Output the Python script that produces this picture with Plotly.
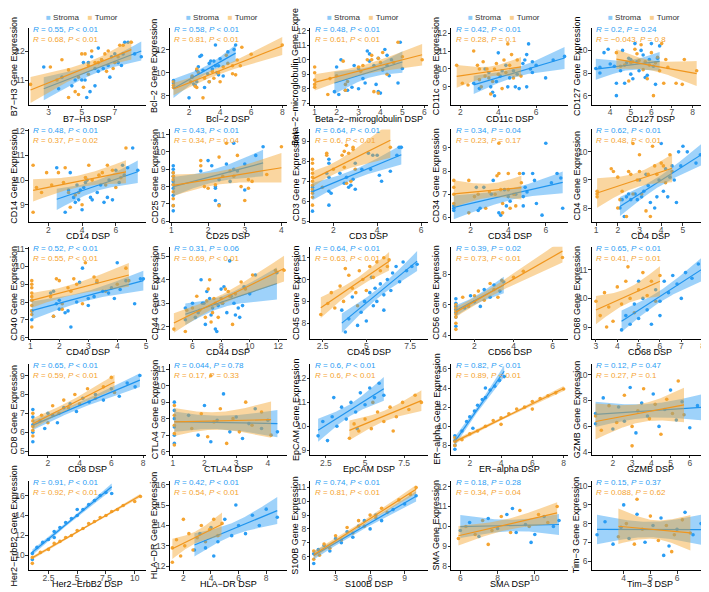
import numpy as np
import plotly.graph_objects as go

# ---------------- data ----------------
markers = ["B7−H3", "Bcl−2", "Beta−2−microglobulin", "CD11c", "CD127",
           "CD14", "CD25", "CD3", "CD34", "CD4",
           "CD40", "CD44", "CD45", "CD56", "CD68",
           "CD8", "CTLA4", "EpCAM", "ER−alpha", "GZMB",
           "Her2−ErbB2", "HLA−DR", "S100B", "SMA", "Tim−3"]

r_stroma = ["0.55", "0.58", "0.48", "0.42", "0.2",
            "0.48", "0.43", "0.64", "0.34", "0.62",
            "0.52", "0.31", "0.64", "0.39", "0.65",
            "0.65", "0.044", "0.6", "0.82", "0.12",
            "0.91", "0.42", "0.74", "0.18", "0.15"]
p_stroma = ["< 0.01", "< 0.01", "< 0.01", "< 0.01", "= 0.24",
            "< 0.01", "< 0.01", "< 0.01", "= 0.04", "< 0.01",
            "< 0.01", "= 0.06", "< 0.01", "= 0.02", "< 0.01",
            "< 0.01", "= 0.78", "< 0.01", "< 0.01", "= 0.47",
            "< 0.01", "< 0.01", "< 0.01", "= 0.28", "= 0.37"]
r_tumor = ["0.68", "0.81", "0.61", "0.28", "−0.043",
           "0.37", "0.34", "0.6", "0.23", "0.48",
           "0.55", "0.69", "0.63", "0.73", "0.41",
           "0.59", "0.17", "0.6", "0.89", "0.27",
           "0.92", "0.54", "0.81", "0.34", "0.088"]
p_tumor = ["< 0.01", "< 0.01", "< 0.01", "= 0.1", "= 0.8",
           "= 0.02", "= 0.04", "< 0.01", "= 0.17", "< 0.01",
           "< 0.01", "< 0.01", "< 0.01", "< 0.01", "= 0.01",
           "< 0.01", "= 0.33", "< 0.01", "< 0.01", "= 0.1",
           "< 0.01", "< 0.01", "< 0.01", "= 0.04", "= 0.62"]

x_ranges = [[1.8, 8.9], [0.75, 8.3], [0.8, 6.15], [1.5, 7.7], [3.1, 8.8],
            [0.85, 7.8], [0.95, 4.15], [0.95, 6.3], [0.95, 7.2], [0.8, 6.2],
            [0.95, 5.0], [4.4, 12.6], [1.8, 8.5], [0.8, 6.8], [2.8, 8.3],
            [0.8, 8.2], [0.9, 4.6], [1.5, 9.0], [0.8, 8.3], [0.9, 7.0],
            [0.8, 11.0], [1.0, 9.5], [0.8, 11.0], [5.5, 11.8], [2.8, 7.2]]
y_ranges = [[10.15, 12.8], [7.2, 13.9], [6.9, 12.2], [8.0, 12.3], [5.2, 12.0],
            [8.3, 12.05], [5.95, 11.3], [4.95, 9.6], [5.8, 9.8], [7.5, 10.8],
            [5.95, 11.1], [11.5, 15.4], [7.3, 11.5], [3.8, 9.8], [8.6, 11.8],
            [4.8, 9.6], [5.8, 11.3], [8.8, 12.6], [7.0, 16.5], [3.8, 10.8],
            [8.5, 17.5], [11.8, 16.2], [5.0, 11.5], [7.8, 12.3], [5.5, 10.3]]
x_ticks = [[3, 5, 7], [2, 4, 6, 8], [1, 2, 3, 4, 5, 6], [2, 4, 6], [4, 5, 6, 7, 8],
           [2, 4, 6], [1, 2, 3, 4], [2, 4, 6], [2, 4, 6], [1, 2, 3, 4, 5, 6],
           [1, 2, 3, 4, 5], [6, 8, 10, 12], [2.5, 5.0, 7.5], [2, 4, 6], [3, 4, 5, 6, 7, 8],
           [2, 4, 6, 8], [1, 2, 3, 4], [2.5, 5.0, 7.5], [2, 4, 6, 8], [2, 3, 4, 5, 6],
           [2.5, 5.0, 7.5, 10.0], [2, 4, 6, 8], [3, 6, 9], [6, 8, 10], [4, 5, 6]]
y_ticks = [[11, 12], [8, 10, 12], [7, 8, 9, 10, 11, 12], [9, 10, 11, 12], [6, 8, 10],
           [9, 10, 11, 12], [6, 7, 8, 9, 10, 11], [5, 6, 7, 8, 9], [6, 7, 8, 9], [8, 9, 10],
           [6, 7, 8, 9, 10, 11], [12, 13, 14, 15], [8, 9, 10, 11], [4, 6, 8], [9, 10, 11],
           [5, 6, 7, 8, 9], [6, 7, 8, 9, 10, 11], [9, 10, 11, 12], [8, 10, 12, 14, 16], [4, 6, 8, 10],
           [10, 12, 14, 16], [12, 13, 14, 15, 16], [6, 7, 8, 9, 10, 11], [8, 9, 10, 11, 12], [6, 7, 8, 9, 10]]

# (DSP, gene expression) pairs per marker
b7h3_s = [(2.7, 11.45), (3.6, 10.7), (3.8, 11.1), (4.4, 10.8), (4.6, 11.0), (5.0, 11.0), (5.3, 10.4), (5.5, 10.6),
          (5.2, 11.0), (5.4, 11.6), (5.6, 11.8), (5.1, 11.6), (5.8, 11.4), (6.0, 11.3), (6.2, 11.7), (6.0, 12.1),
          (6.3, 11.4), (6.6, 11.5), (6.8, 11.8), (7.0, 11.9), (7.2, 11.6), (7.4, 11.5), (7.5, 11.9), (7.6, 12.3),
          (7.8, 12.3), (8.2, 11.9), (8.6, 11.8), (6.7, 11.1), (5.8, 10.8)]
b7h3_t = [(1.9, 10.85), (3.1, 11.45), (3.5, 11.0), (3.8, 11.7), (4.2, 11.35), (4.2, 10.4), (4.6, 10.6), (4.8, 10.5),
          (4.8, 11.1), (5.1, 10.75), (5.4, 11.2), (5.4, 11.5), (5.2, 11.9), (5.6, 12.0), (5.0, 11.9), (5.8, 11.6),
          (6.0, 11.6), (6.2, 11.7), (6.4, 11.9), (6.5, 11.3), (6.6, 12.0), (7.0, 11.6), (7.3, 12.2), (7.5, 12.2),
          (7.2, 11.8), (6.9, 11.4), (8.0, 12.3)]
bcl2_s = [(1.0, 9.3), (1.0, 9.1), (2.0, 7.8), (2.2, 9.6), (2.3, 9.0), (2.4, 8.9), (2.5, 9.2), (2.5, 10.2),
          (2.6, 10.5), (2.7, 11.4), (2.8, 11.5), (2.9, 10.2), (3.0, 8.7), (3.2, 9.9), (3.3, 10.8), (3.4, 11.0),
          (3.5, 10.3), (3.6, 11.0), (3.7, 12.4), (3.7, 10.6), (3.8, 10.0), (3.9, 10.6), (4.0, 11.2), (4.2, 9.7),
          (4.5, 11.8), (4.9, 12.0), (5.0, 12.4), (3.3, 9.2), (3.9, 9.8)]
bcl2_t = [(1.0, 9.2), (1.0, 8.9), (1.0, 8.7), (2.1, 9.2), (2.2, 9.7), (2.4, 8.8), (2.5, 8.7), (2.5, 10.3),
          (2.6, 10.0), (2.9, 7.8), (3.0, 9.5), (3.3, 9.2), (3.6, 9.5), (3.9, 10.0), (4.0, 9.2), (4.2, 10.5),
          (4.5, 10.8), (4.8, 10.6), (4.8, 9.9), (5.0, 9.8), (5.1, 11.1), (5.3, 10.6), (5.4, 12.2), (6.0, 11.6),
          (8.0, 12.4), (3.5, 10.1), (4.4, 11.5)]
b2m_s = [(1.9, 7.8), (2.0, 9.5), (2.1, 7.6), (2.2, 10.0), (2.4, 7.9), (2.5, 7.9), (2.7, 8.1), (2.8, 9.6),
         (3.0, 8.0), (3.0, 9.4), (3.2, 8.7), (3.3, 8.4), (3.4, 10.6), (3.5, 10.4), (3.5, 9.9), (3.7, 9.6),
         (3.8, 8.3), (3.9, 7.8), (3.9, 10.1), (4.0, 7.7), (4.1, 9.3), (4.2, 10.7), (4.3, 10.3), (4.4, 8.9),
         (4.5, 10.0), (4.8, 8.4), (4.9, 11.2), (5.0, 9.4), (4.3, 9.6)]
b2m_t = [(1.0, 9.5), (1.0, 9.1), (1.0, 8.6), (1.0, 8.3), (1.0, 8.1), (1.6, 7.6), (1.7, 8.7), (2.0, 8.9),
         (2.3, 9.9), (2.4, 8.3), (2.4, 7.9), (2.5, 8.5), (3.1, 9.2), (3.2, 9.6), (3.4, 10.0), (3.6, 10.3),
         (3.6, 10.0), (3.7, 7.8), (3.9, 10.1), (3.9, 7.7), (4.0, 9.8), (4.1, 10.5), (4.3, 9.0), (4.6, 9.8),
         (4.8, 11.2), (5.0, 10.2), (5.9, 10.0), (3.0, 9.5)]
cd11c_s = [(2.7, 9.2), (3.0, 8.9), (3.3, 10.0), (3.5, 9.8), (3.6, 9.0), (3.7, 8.7), (3.8, 8.5), (3.9, 9.3),
           (4.0, 10.9), (4.1, 9.6), (4.2, 9.9), (4.4, 10.2), (4.5, 9.0), (4.6, 9.5), (4.9, 9.0), (5.0, 9.7),
           (5.1, 8.9), (5.3, 10.3), (5.4, 10.5), (5.5, 10.8), (5.5, 9.0), (5.6, 11.4), (5.7, 10.0), (5.8, 10.4),
           (5.8, 9.8), (6.0, 10.2), (6.5, 9.5), (6.9, 10.5), (7.5, 10.7), (4.8, 9.9)]
cd11c_t = [(1.8, 10.2), (2.1, 9.2), (2.4, 9.1), (2.7, 11.0), (2.9, 10.2), (3.0, 10.0), (3.0, 9.4), (3.1, 9.0),
           (3.2, 10.4), (3.3, 9.6), (3.4, 10.0), (3.5, 9.5), (3.6, 8.6), (3.7, 9.3), (3.9, 10.3), (4.0, 9.7),
           (4.2, 8.9), (4.3, 10.5), (4.4, 9.8), (4.5, 11.4), (4.6, 10.2), (4.7, 10.8), (4.8, 9.5), (5.0, 10.5),
           (5.2, 9.6), (3.8, 10.0)]
cd127_s = [(3.3, 8.4), (3.5, 8.0), (3.5, 8.5), (3.7, 9.8), (3.9, 10.1), (4.2, 8.6), (4.3, 7.1), (4.3, 6.0),
           (4.6, 10.0), (4.7, 7.1), (4.8, 8.9), (4.9, 9.3), (5.0, 7.9), (5.1, 7.5), (5.2, 10.6), (5.3, 9.0),
           (5.4, 8.2), (5.5, 10.0), (5.6, 9.6), (5.7, 7.6), (5.8, 7.8), (5.9, 9.2), (6.0, 10.6), (6.1, 8.6),
           (6.2, 7.0), (6.3, 9.3), (6.4, 10.4), (4.5, 8.2), (5.0, 9.2), (4.0, 8.8)]
cd127_t = [(4.3, 9.8), (4.5, 8.6), (4.7, 8.7), (4.9, 7.3), (5.0, 8.9), (5.2, 10.1), (5.3, 9.7), (5.4, 9.1),
           (5.5, 10.5), (5.6, 8.3), (5.7, 9.0), (5.8, 7.5), (5.9, 8.7), (6.1, 6.0), (6.2, 8.9), (6.3, 9.4),
           (6.4, 8.2), (6.5, 10.6), (6.6, 7.1), (6.7, 9.2), (6.8, 8.5), (7.2, 7.1), (7.5, 7.0), (7.6, 9.2),
           (8.2, 8.2), (6.0, 9.8), (5.1, 9.0)]
cd14_s = [(2.5, 10.5), (3.0, 8.7), (3.2, 9.6), (3.3, 10.3), (3.5, 9.3), (3.6, 9.1), (3.7, 9.8), (3.8, 9.2),
          (3.9, 9.6), (4.0, 8.8), (4.1, 9.7), (4.2, 9.9), (4.3, 10.0), (4.5, 9.3), (4.6, 9.2), (4.9, 9.5),
          (5.1, 9.8), (5.3, 9.1), (5.5, 9.3), (5.6, 10.0), (5.8, 9.2), (6.0, 10.4), (6.2, 9.9), (6.4, 10.6),
          (6.5, 10.2), (6.7, 10.5), (7.0, 11.3), (7.3, 10.4)]
cd14_t = [(1.1, 10.6), (1.1, 8.7), (1.3, 9.7), (1.6, 9.5), (1.9, 10.3), (2.2, 9.8), (2.6, 10.3), (2.9, 9.9),
          (3.2, 9.5), (3.3, 8.9), (3.6, 9.4), (3.8, 9.5), (4.0, 9.0), (4.2, 10.1), (4.4, 10.6), (4.6, 10.0),
          (5.0, 10.2), (5.2, 10.3), (5.4, 9.8), (5.5, 10.6), (5.8, 10.4), (6.0, 9.7), (6.3, 10.1), (6.6, 11.3),
          (3.0, 10.5)]
cd25_s = [(1.05, 9.2), (1.05, 9.0), (1.05, 8.8), (1.05, 8.6), (1.05, 8.3), (1.05, 8.1), (1.05, 7.9), (1.05, 7.5),
          (1.05, 6.9), (1.05, 6.6), (1.8, 8.9), (2.0, 9.5), (2.1, 9.2), (2.2, 8.0), (2.2, 7.9), (2.2, 7.2),
          (2.3, 6.95), (2.3, 8.4), (2.5, 9.3), (2.6, 8.3), (2.7, 10.5), (2.7, 9.0), (2.8, 8.9), (3.0, 7.8),
          (3.0, 9.3), (3.3, 9.8), (3.5, 10.3)]
cd25_t = [(1.05, 8.8), (1.05, 8.6), (1.05, 8.4), (1.05, 8.1), (1.05, 7.7), (1.05, 7.3), (1.05, 6.9), (1.8, 9.2),
          (1.8, 9.5), (1.9, 8.0), (2.0, 7.9), (2.2, 8.1), (2.3, 6.9), (2.3, 9.7), (2.4, 8.6), (2.5, 10.5),
          (2.6, 8.9), (2.7, 8.6), (2.8, 9.8), (2.9, 8.0), (3.0, 7.2), (3.1, 7.9), (3.1, 8.4), (3.2, 8.3),
          (3.6, 8.7), (4.0, 10.3)]
cd3_s = [(1.05, 5.5), (1.05, 6.7), (1.05, 6.5), (1.7, 7.4), (1.8, 7.2), (1.8, 8.1), (1.8, 7.9), (1.8, 6.5),
         (1.8, 5.8), (1.9, 6.4), (2.3, 7.4), (2.5, 6.9), (2.6, 7.2), (2.7, 6.7), (2.8, 6.8), (2.9, 7.1),
         (3.0, 6.6), (3.0, 7.9), (3.3, 7.6), (3.6, 8.4), (3.7, 7.6), (3.8, 8.3), (4.0, 8.3), (4.1, 7.3),
         (4.2, 7.0), (4.6, 7.5), (4.9, 8.3), (5.0, 8.7), (5.1, 8.7)]
cd3_t = [(1.05, 8.1), (1.05, 7.9), (1.05, 7.6), (1.05, 7.4), (1.05, 7.2), (1.05, 7.0), (1.05, 6.8), (1.05, 6.6),
         (1.05, 6.4), (1.05, 6.2), (1.05, 5.8), (1.5, 6.7), (1.7, 8.4), (1.7, 8.3), (2.0, 7.6), (2.4, 8.3),
         (2.5, 8.5), (2.6, 8.8), (2.7, 8.4), (2.9, 8.6), (2.9, 8.7), (2.5, 7.7), (3.0, 7.6), (4.6, 8.7),
         (2.6, 6.9), (2.8, 7.0)]
cd34_s = [(1.1, 6.3), (1.1, 6.5), (1.1, 6.4), (2.3, 7.3), (2.4, 6.3), (2.5, 6.4), (2.7, 7.3), (3.1, 7.0),
          (3.2, 7.6), (3.5, 6.2), (3.6, 6.1), (3.8, 7.2), (3.9, 6.5), (4.0, 6.9), (4.1, 6.7), (4.4, 7.0),
          (4.8, 7.9), (4.8, 6.9), (4.8, 6.5), (5.0, 7.1), (5.3, 7.9), (5.4, 7.6), (5.5, 6.6), (5.8, 6.1),
          (6.0, 9.2), (6.3, 7.5), (6.6, 7.9), (6.8, 7.7), (6.9, 6.4), (4.9, 7.3)]
cd34_t = [(1.1, 7.6), (1.1, 7.3), (1.1, 7.0), (1.1, 6.6), (1.9, 7.6), (1.9, 6.2), (2.4, 7.0), (2.8, 6.4),
          (3.3, 7.0), (3.4, 7.8), (3.5, 9.2), (3.5, 7.9), (3.6, 7.2), (3.7, 6.6), (3.7, 6.2), (4.0, 7.9),
          (4.0, 7.2), (4.1, 6.4), (4.3, 7.0), (4.4, 6.5), (4.6, 7.9), (4.7, 7.5), (3.0, 7.1), (2.2, 6.9)]
cd4_s = [(2.1, 8.0), (2.2, 8.3), (2.3, 7.7), (2.4, 8.4), (2.5, 8.5), (2.6, 8.3), (2.8, 8.5), (2.9, 8.3),
         (3.0, 9.0), (3.1, 8.4), (3.2, 8.6), (3.3, 9.2), (3.4, 8.8), (3.5, 8.2), (3.7, 8.0), (3.8, 8.4),
         (3.9, 9.0), (4.0, 10.3), (4.1, 8.6), (4.2, 9.4), (4.3, 8.4), (4.4, 9.1), (4.5, 9.5), (4.6, 9.0),
         (4.7, 8.2), (4.8, 10.0), (4.9, 9.5), (5.0, 10.2), (5.2, 10.0), (5.6, 9.6), (5.8, 9.9), (6.0, 9.9)]
cd4_t = [(1.05, 8.6), (1.05, 8.4), (1.05, 8.5), (1.7, 9.4), (1.8, 9.3), (2.0, 9.1), (2.0, 8.0), (2.2, 8.6),
         (2.4, 7.7), (2.5, 9.3), (2.6, 9.2), (2.7, 10.3), (2.7, 8.5), (2.9, 9.0), (3.0, 9.9), (3.0, 9.3),
         (3.1, 8.5), (3.3, 7.9), (3.4, 9.2), (3.6, 10.2), (3.7, 9.5), (3.8, 9.2), (4.0, 9.6), (4.1, 9.5),
         (4.2, 8.9), (4.4, 9.9), (4.5, 9.3), (2.1, 8.3), (3.5, 7.7)]
cd40_s = [(1.05, 8.1), (1.05, 7.5), (1.05, 7.0), (1.7, 8.5), (1.8, 8.6), (1.8, 7.2), (1.9, 7.9), (2.0, 7.6),
          (2.0, 8.1), (2.2, 7.4), (2.3, 7.5), (2.4, 6.6), (2.6, 8.0), (2.7, 9.1), (2.8, 9.9), (3.0, 8.2),
          (3.0, 7.8), (3.2, 8.3), (3.3, 9.1), (3.5, 8.6), (3.7, 8.5), (3.8, 8.8), (3.9, 8.2), (4.0, 10.2),
          (4.1, 8.7), (4.3, 9.2), (4.6, 7.9), (4.8, 9.3), (4.9, 9.3)]
cd40_t = [(1.05, 9.2), (1.05, 9.0), (1.05, 8.8), (1.05, 8.5), (1.05, 8.3), (1.05, 8.1), (1.05, 7.8), (1.05, 7.5),
          (1.05, 7.3), (1.05, 6.6), (1.7, 8.3), (1.8, 7.2), (1.9, 9.3), (2.0, 9.2), (2.1, 7.6), (2.1, 7.9),
          (2.3, 8.8), (2.5, 9.3), (2.6, 9.0), (2.8, 7.9), (2.9, 10.2), (3.2, 9.4), (3.3, 9.2), (3.6, 8.6),
          (4.0, 9.0), (4.3, 9.9), (4.4, 9.2), (2.4, 8.6)]
cd44_s = [(5.5, 12.8), (5.5, 12.3), (6.0, 13.0), (6.2, 12.4), (6.4, 12.6), (6.6, 14.0), (6.7, 13.0), (6.8, 13.0),
          (6.9, 12.1), (7.0, 13.5), (7.2, 13.2), (7.3, 12.5), (7.4, 12.8), (7.6, 11.9), (7.7, 11.8), (7.8, 12.9),
          (8.0, 13.6), (8.1, 13.0), (8.2, 13.7), (8.4, 12.6), (8.6, 14.8), (8.7, 13.3), (8.9, 13.0), (9.0, 12.5),
          (9.2, 12.8), (9.3, 12.4), (9.5, 12.9), (9.6, 13.7), (10.0, 13.4), (10.4, 14.2), (11.9, 14.3)]
cd44_t = [(4.7, 11.9), (5.5, 11.8), (5.6, 12.7), (6.0, 12.8), (6.3, 13.3), (6.5, 12.7), (6.9, 12.4), (7.0, 13.1),
          (7.1, 13.6), (7.2, 14.0), (7.3, 12.2), (7.4, 12.6), (7.5, 13.2), (7.6, 13.0), (7.8, 12.4), (8.0, 13.2),
          (8.1, 13.0), (8.3, 13.6), (8.5, 13.5), (8.6, 13.3), (8.8, 12.1), (9.0, 13.4), (9.4, 13.9), (9.7, 13.6),
          (10.2, 14.2), (11.8, 14.4), (12.4, 14.4)]
cd45_s = [(3.6, 8.6), (3.8, 7.6), (4.0, 8.2), (4.2, 9.2), (4.5, 7.9), (4.7, 8.5), (4.9, 9.0), (5.0, 8.1),
          (5.2, 9.4), (5.4, 8.8), (5.5, 9.6), (5.6, 9.0), (5.8, 9.8), (6.0, 9.3), (6.2, 10.0), (6.4, 9.5),
          (6.5, 10.3), (6.7, 10.6), (6.9, 9.9), (7.1, 10.8), (7.3, 10.4), (7.6, 10.6), (7.9, 10.7), (5.3, 10.1),
          (6.0, 8.6)]
cd45_t = [(2.4, 8.4), (2.8, 8.9), (3.0, 9.4), (3.2, 8.7), (3.5, 9.7), (3.7, 9.0), (4.0, 10.2), (4.2, 9.6),
          (4.4, 9.4), (4.6, 10.4), (4.8, 10.0), (5.0, 9.5), (5.2, 10.6), (5.4, 10.1), (5.6, 10.8), (5.8, 10.4),
          (6.0, 11.0), (6.2, 10.6), (6.3, 10.9), (3.8, 10.5), (4.5, 8.8)]
cd56_s = [(1.05, 6.4), (1.05, 6.1), (1.05, 5.9), (1.05, 5.7), (1.05, 5.5), (1.05, 5.2), (1.05, 4.6), (1.5, 5.8),
          (1.8, 6.6), (2.0, 6.2), (2.3, 5.9), (2.5, 7.0), (2.8, 6.5), (3.0, 7.3), (3.3, 6.9), (3.5, 7.5)]
cd56_t = [(1.05, 6.0), (1.05, 5.8), (1.05, 5.6), (1.05, 5.4), (1.05, 5.2), (1.05, 4.8), (1.05, 4.4), (1.4, 6.5),
          (1.7, 5.9), (2.0, 6.6), (2.2, 6.9), (2.5, 6.3), (2.8, 7.4), (3.0, 7.0), (3.4, 7.6), (4.0, 7.8),
          (4.5, 8.2), (6.5, 9.1), (3.2, 6.5)]
cd68_s = [(4.2, 8.9), (4.4, 9.4), (4.6, 9.1), (4.8, 9.8), (5.0, 9.3), (5.2, 10.0), (5.4, 9.6), (5.6, 9.1),
          (5.8, 10.3), (6.0, 9.9), (6.2, 10.6), (6.4, 10.2), (6.6, 10.8), (6.8, 10.5), (7.0, 10.0), (7.2, 10.9),
          (7.5, 10.7), (7.8, 11.2), (8.0, 10.9), (5.0, 10.6), (6.0, 9.4)]
cd68_t = [(3.0, 9.9), (3.2, 9.4), (3.4, 10.2), (3.6, 9.7), (3.8, 9.2), (4.0, 10.4), (4.2, 9.8), (4.4, 10.6),
          (4.6, 10.0), (4.8, 9.5), (5.0, 10.3), (5.2, 10.9), (5.4, 10.1), (5.6, 10.6), (5.8, 9.9), (6.0, 10.8),
          (4.5, 11.1), (3.5, 9.0)]
cd8_s = [(1.05, 7.2), (1.05, 6.8), (1.05, 6.4), (1.05, 6.0), (1.05, 5.5), (1.5, 6.6), (1.8, 6.2), (2.0, 7.0),
         (2.3, 6.9), (2.6, 6.5), (3.0, 7.3), (3.4, 7.5), (3.8, 7.1), (4.2, 7.8), (4.6, 7.6), (5.0, 8.0),
         (5.5, 7.7), (6.0, 8.3), (6.5, 7.9), (7.0, 8.6), (7.5, 8.4), (7.8, 9.0)]
cd8_t = [(1.05, 7.0), (1.05, 6.6), (1.05, 6.3), (1.05, 6.1), (1.05, 5.8), (1.6, 6.9), (2.0, 6.5), (2.3, 7.4),
         (2.7, 7.0), (3.0, 7.7), (3.3, 7.3), (3.7, 8.0), (4.0, 7.5), (4.5, 8.3), (5.0, 7.8), (5.5, 8.4),
         (6.0, 8.9), (6.2, 8.1)]
ctla4_s = [(1.05, 9.0), (1.05, 8.5), (1.05, 8.0), (1.05, 7.5), (1.05, 7.0), (1.05, 6.5), (1.5, 8.2), (1.8, 7.0),
           (2.0, 8.8), (2.2, 6.6), (2.4, 7.9), (2.6, 9.5), (2.8, 7.2), (3.0, 8.1), (3.2, 6.8), (3.4, 7.7),
           (3.6, 8.6), (3.8, 7.4), (4.0, 7.9), (4.3, 7.2)]
ctla4_t = [(1.05, 8.8), (1.05, 8.2), (1.05, 7.6), (1.05, 7.1), (1.05, 6.4), (1.6, 7.4), (1.9, 8.3), (2.1, 6.9),
           (2.3, 7.8), (2.5, 8.6), (2.7, 6.5), (2.9, 8.0), (3.1, 7.2), (3.3, 9.0), (3.5, 7.6), (3.8, 8.4),
           (4.1, 7.0), (2.2, 10.6)]
epcam_s = [(2.0, 9.6), (2.3, 10.2), (2.6, 9.4), (2.9, 10.4), (3.2, 10.0), (3.5, 10.8), (3.8, 10.3), (4.1, 11.0),
           (4.4, 10.6), (4.7, 11.4), (5.0, 10.9), (5.3, 11.6), (5.6, 11.2), (5.9, 11.8), (6.2, 11.3), (3.0, 11.2),
           (4.5, 9.9)]
epcam_t = [(4.0, 9.5), (4.3, 10.1), (4.6, 9.8), (5.0, 10.3), (5.4, 9.9), (5.8, 10.6), (6.2, 10.2), (6.6, 10.8),
           (7.0, 10.4), (7.4, 11.0), (7.8, 10.7), (8.2, 11.3), (8.6, 11.0), (5.5, 11.0), (6.8, 9.8)]
era_s = [(1.05, 9.0), (1.05, 8.5), (1.05, 8.0), (1.05, 7.6), (1.5, 9.5), (1.8, 10.5), (2.0, 11.0), (2.3, 11.6),
         (2.5, 12.2), (2.8, 12.8), (3.0, 13.0), (3.3, 13.8), (3.6, 14.2), (3.9, 14.8), (4.2, 15.2), (2.2, 9.8),
         (3.0, 14.0)]
era_t = [(1.05, 8.8), (1.05, 8.4), (1.05, 8.0), (1.5, 8.6), (2.0, 9.2), (2.5, 9.5), (3.0, 10.0), (3.5, 10.6),
         (4.0, 10.9), (4.5, 11.3), (5.0, 11.8), (5.5, 12.0), (6.0, 12.6), (6.5, 12.9), (7.0, 13.2), (7.5, 13.5),
         (8.0, 13.9), (4.0, 10.2), (6.0, 11.8)]
gzmb_s = [(1.1, 7.0), (1.1, 6.2), (1.5, 8.2), (2.0, 5.8), (2.3, 7.5), (2.6, 6.4), (2.9, 9.0), (3.2, 5.5),
          (3.5, 7.8), (3.8, 6.8), (4.1, 8.5), (4.4, 6.0), (4.7, 7.3), (5.0, 8.8), (5.3, 6.5), (5.6, 7.9),
          (6.0, 5.9), (6.4, 7.6), (6.7, 8.0)]
gzmb_t = [(1.1, 6.8), (1.4, 5.7), (1.8, 7.6), (2.2, 6.3), (2.6, 8.4), (3.0, 6.0), (3.3, 7.2), (3.6, 8.9),
          (3.9, 6.6), (4.2, 7.7), (4.5, 5.4), (4.8, 8.1), (5.1, 7.0), (5.4, 9.5), (5.7, 6.9), (3.0, 4.5)]
her2_s = [(1.1, 9.6), (1.1, 10.2), (1.5, 10.8), (2.0, 11.3), (2.5, 11.6), (3.0, 12.4), (3.5, 12.8), (4.0, 13.3),
          (4.5, 13.7), (5.0, 14.0), (5.5, 14.6), (6.0, 15.1), (6.5, 15.5), (7.0, 16.0), (7.5, 16.3), (8.0, 16.2),
          (3.0, 11.8), (5.0, 14.6)]
her2_t = [(1.1, 9.2), (1.1, 9.8), (1.8, 10.3), (2.5, 10.6), (3.0, 11.2), (3.5, 11.4), (4.0, 11.8), (4.5, 12.0),
          (5.0, 12.5), (5.5, 12.7), (6.0, 13.2), (6.5, 13.4), (7.0, 13.8), (7.5, 14.0), (8.0, 14.4), (8.5, 14.6),
          (9.0, 15.0), (10.0, 15.4), (10.5, 15.9)]
hladr_s = [(2.8, 12.8), (3.2, 13.6), (3.6, 12.9), (4.0, 13.9), (4.5, 13.2), (5.0, 14.3), (5.5, 13.5), (6.0, 14.0),
           (6.5, 13.6), (7.0, 14.5), (7.5, 14.0), (8.0, 14.8), (8.8, 14.4), (4.2, 12.5), (5.8, 15.0)]
hladr_t = [(1.2, 12.2), (1.2, 12.9), (1.5, 13.3), (1.8, 12.5), (2.1, 13.0), (2.4, 13.6), (2.7, 12.8), (3.0, 13.4),
           (3.3, 14.0), (3.6, 13.2), (3.9, 13.8), (4.2, 14.3), (4.5, 13.5), (4.8, 14.1), (2.0, 14.3)]
s100b_s = [(1.1, 5.5), (1.1, 6.2), (1.5, 6.5), (2.0, 6.8), (2.5, 6.4), (3.0, 7.3), (3.5, 7.0), (4.0, 7.8),
           (4.5, 7.4), (5.0, 8.2), (5.5, 8.6), (6.0, 8.0), (6.5, 9.0), (7.0, 8.6), (8.0, 9.4), (9.0, 9.8),
           (10.0, 10.4)]
s100b_t = [(1.1, 5.8), (1.1, 6.4), (1.6, 6.1), (2.0, 6.9), (2.5, 6.6), (3.0, 7.5), (3.5, 7.2), (4.0, 8.1),
           (4.5, 7.7), (5.0, 8.6), (5.5, 8.2), (6.0, 9.0), (6.5, 8.8), (7.0, 9.5), (7.5, 9.2), (8.5, 10.1),
           (9.5, 10.5), (10.0, 11.0)]
sma_s = [(6.0, 9.8), (6.5, 10.2), (7.0, 9.5), (7.5, 10.4), (8.0, 9.9), (8.5, 10.6), (9.0, 9.7), (9.5, 10.1),
         (10.0, 9.6), (10.5, 10.5), (11.0, 10.0), (11.3, 10.3), (8.8, 10.9), (9.8, 9.2)]
sma_t = [(5.9, 9.4), (6.3, 10.0), (6.8, 9.6), (7.2, 10.3), (7.7, 9.8), (8.2, 10.5), (8.7, 9.7), (9.2, 10.8),
         (9.7, 10.0), (10.2, 10.6), (10.7, 10.2), (11.2, 11.0), (7.5, 9.1)]
tim3_s = [(3.0, 7.4), (3.3, 8.1), (3.6, 6.9), (3.9, 7.8), (4.2, 7.2), (4.5, 8.5), (4.8, 7.0), (5.1, 7.9),
          (5.4, 8.3), (5.7, 6.8), (6.0, 7.7), (6.3, 8.6), (6.6, 7.4), (6.9, 8.0), (4.0, 9.0), (5.5, 6.3)]
tim3_t = [(3.8, 7.3), (4.1, 8.0), (4.4, 6.9), (4.7, 7.7), (5.0, 8.4), (5.3, 7.1), (5.6, 7.9), (5.9, 7.4),
          (6.2, 8.2), (6.5, 7.5), (4.5, 9.3), (5.8, 6.5)]

stroma_points = [b7h3_s, bcl2_s, b2m_s, cd11c_s, cd127_s, cd14_s, cd25_s, cd3_s, cd34_s, cd4_s,
                 cd40_s, cd44_s, cd45_s, cd56_s, cd68_s, cd8_s, ctla4_s, epcam_s, era_s, gzmb_s,
                 her2_s, hladr_s, s100b_s, sma_s, tim3_s]
tumor_points = [b7h3_t, bcl2_t, b2m_t, cd11c_t, cd127_t, cd14_t, cd25_t, cd3_t, cd34_t, cd4_t,
                cd40_t, cd44_t, cd45_t, cd56_t, cd68_t, cd8_t, ctla4_t, epcam_t, era_t, gzmb_t,
                her2_t, hladr_t, s100b_t, sma_t, tim3_t]

groups = ["Stroma", "Tumor"]

# ---------------- style ----------------
W, H = 709, 592
BLUE = "#2A9DF4"
ORANGE = "#F5A431"
BLUE_LINE = "#1F94EE"
ORANGE_LINE = "#F0961E"
BLUE_FILL = "rgba(40,155,245,0.45)"
ORANGE_FILL = "rgba(245,165,45,0.45)"
BLUE_KEY = "#8CCBF8"
ORANGE_KEY = "#F9CF8E"
FONT = "Liberation Sans, Arial, sans-serif"

col_left = [20, 161.5, 303, 444.5, 586]
panel_w = 118
row_top = [16, 119, 238, 357, 475]
row_bot = [94, 213, 331, 449, 566]


def t975(df):
    z = 1.959964
    return (z + (z ** 3 + z) / (4 * df) + (5 * z ** 5 + 16 * z ** 3 + 3 * z) / (96 * df ** 2)
            + (3 * z ** 7 + 19 * z ** 5 + 17 * z ** 3 - 15 * z) / (384 * df ** 3))


def lm_band(pts):
    a = np.asarray(pts, dtype=float)
    x, y = a[:, 0], a[:, 1]
    n = len(x)
    slope, icpt = np.polyfit(x, y, 1)
    xs = np.linspace(x.min(), x.max(), 80)
    yh = slope * xs + icpt
    resid = y - (slope * x + icpt)
    s = np.sqrt((resid ** 2).sum() / (n - 2))
    se = s * np.sqrt(1.0 / n + (xs - x.mean()) ** 2 / ((x - x.mean()) ** 2).sum())
    t = t975(n - 2)
    return xs, yh, yh - t * se, yh + t * se


def px(xp):
    return xp / W


def py(yp):
    return 1 - yp / H


fig = go.Figure()
layout = dict(width=W, height=H, margin=dict(l=0, r=0, t=0, b=0), autosize=False,
              paper_bgcolor="white", plot_bgcolor="white", showlegend=False,
              font=dict(family=FONT, size=9, color="#333333"))
annotations = []

for k in range(25):
    r, c = divmod(k, 5)
    ax = "" if k == 0 else str(k + 1)
    xa, ya = "x" + ax, "y" + ax
    left, right = col_left[c], col_left[c] + panel_w
    top, bot = row_top[r], row_bot[r]
    common = dict(showgrid=False, zeroline=False, showline=True, linecolor="black", linewidth=0.8,
                  ticks="outside", ticklen=2.5, tickwidth=0.8, tickcolor="#333333",
                  tickfont=dict(size=8.5, color="#4D4D4D"))
    layout["xaxis" + ax] = dict(domain=[px(left), px(right)], anchor=ya, range=x_ranges[k],
                                tickvals=x_ticks[k], ticklabelstandoff=-3, **common)
    layout["yaxis" + ax] = dict(domain=[py(bot), py(top)], anchor=xa, range=y_ranges[k],
                                tickvals=y_ticks[k], ticklabelstandoff=-1, **common)

    # points
    for pts, col in ((stroma_points[k], BLUE), (tumor_points[k], ORANGE)):
        a = np.asarray(pts)
        fig.add_trace(go.Scatter(x=a[:, 0], y=a[:, 1], mode="markers", xaxis=xa, yaxis=ya,
                                 marker=dict(size=3.6, color=col), hoverinfo="skip"))
    # regression line with 95% confidence band
    for pts, lc, fc in ((stroma_points[k], BLUE_LINE, BLUE_FILL), (tumor_points[k], ORANGE_LINE, ORANGE_FILL)):
        xs, yh, lo, hi = lm_band(pts)
        fig.add_trace(go.Scatter(x=np.concatenate([xs, xs[::-1]]), y=np.concatenate([hi, lo[::-1]]),
                                 mode="lines", fill="toself", fillcolor=fc, line=dict(width=0),
                                 xaxis=xa, yaxis=ya, hoverinfo="skip"))
        fig.add_trace(go.Scatter(x=xs, y=yh, mode="lines", line=dict(color=lc, width=1.2),
                                 xaxis=xa, yaxis=ya, hoverinfo="skip"))

    # axis titles
    annotations.append(dict(xref="paper", yref="paper", x=px((left + right) / 2), y=py(bot + 14),
                            xanchor="center", yanchor="middle", showarrow=False,
                            text=markers[k] + " DSP", font=dict(size=9, color="black")))
    annotations.append(dict(xref="paper", yref="paper", x=px(left - 15), y=py((top + bot) / 2),
                            xanchor="center", yanchor="middle", showarrow=False, textangle=-90,
                            text=markers[k] + " Gene Expression", font=dict(size=9, color="black")))

    # legend (first row only)
    if r == 0:
        legend_text = ("<span style='color:%s'>■</span> %s    <span style='color:%s'>■</span> %s"
                       % (BLUE_KEY, groups[0], ORANGE_KEY, groups[1]))
        annotations.append(dict(xref="paper", yref="paper", x=px(left + 53), y=py(6),
                                xanchor="center", yanchor="middle", showarrow=False,
                                text=legend_text, font=dict(size=8, color="#333333")))

    # correlation labels (two coloured lines in one text block)
    corr_text = ("<span style='color:%s'><i>R</i> = %s, <i>P</i> %s</span><br>"
                 "<span style='color:%s'><i>R</i> = %s, <i>P</i> %s</span>"
                 % (BLUE, r_stroma[k], p_stroma[k], ORANGE, r_tumor[k], p_tumor[k]))
    annotations.append(dict(xref=xa + " domain", yref=ya + " domain", x=0.03, y=1,
                            xanchor="left", yanchor="top", yshift=4, align="left",
                            showarrow=False, font=dict(size=8), borderpad=0, text=corr_text))

layout["annotations"] = annotations
fig.update_layout(**layout)
fig.write_html("out.html")
